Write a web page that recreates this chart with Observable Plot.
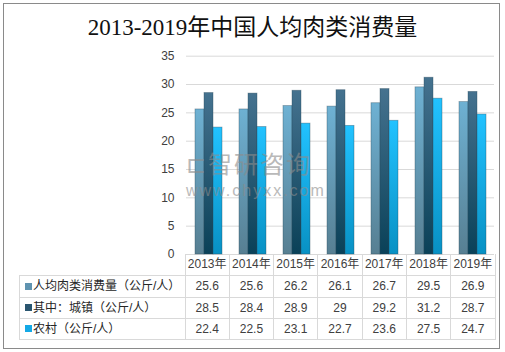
<!DOCTYPE html>
<html>
<head>
<meta charset="utf-8">
<script src="https://cdn.jsdelivr.net/npm/d3@7"></script>
<script src="https://cdn.jsdelivr.net/npm/@observablehq/plot@0.6"></script>
<style>
  html, body { margin: 0; padding: 0; background: #fff; }
  #wrap { position: relative; width: 505px; height: 352px; overflow: hidden; background: #fff; }
  #wrap svg { position: absolute; left: 0; top: 0; }
  .abs { position: absolute; white-space: nowrap; }
  #frame { position: absolute; left: 3px; top: 3px; width: 497px; height: 346px; box-sizing: border-box; border: 1px solid #8a8a8a; }
  #title { left: 0; width: 505px; top: 15px; text-align: center; font-family: "Liberation Serif", "Noto Sans CJK SC", serif; font-size: 23px; line-height: 26px; color: #111; }
  .cell { font-family: "Liberation Sans", "Noto Sans CJK SC", sans-serif; font-size: 12px; color: #404040; line-height: 14px; }
  .hl { position: absolute; height: 1px; background: #d9d9d9; }
  .vl { position: absolute; width: 1px; background: #d9d9d9; }
  .wm { font-family: "Noto Sans CJK SC", sans-serif; color: #8c8c8c; opacity: 0.6; }
</style>
</head>
<body>
<div id="wrap"></div>
<script>
// ---- data ----
const years = ["2013年", "2014年", "2015年", "2016年", "2017年", "2018年", "2019年"];
const seriesNames = ["人均肉类消费量（公斤/人）", "其中：城镇（公斤/人）", "农村（公斤/人）"];
const perCapita = [25.6, 25.6, 26.2, 26.1, 26.7, 29.5, 26.9];
const urban = [28.5, 28.4, 28.9, 29, 29.2, 31.2, 28.7];
const rural = [22.4, 22.5, 23.1, 22.7, 23.6, 27.5, 24.7];
const yTicks = [0, 5, 10, 15, 20, 25, 30, 35];
const title = "2013-2019年中国人均肉类消费量";

const seriesValues = [perCapita, urban, rural];
const keys = ["s0", "s1", "s2"];
const gradients = [
  ["#6eb1d3", "#577f92"],
  ["#45728f", "#0a4158"],
  ["#22c2ff", "#0891c4"]
];
const keyColors = ["#5f93b0", "#2a5670", "#14a9e6"];

const rows = [];
years.forEach((y, i) => keys.forEach((k, j) => rows.push({year: y, key: k, value: seriesValues[j][i]})));

const W = 505, H = 352;
const mL = 185, mR = 10, plotTop = 55.7, plotBottom = 254;

const chart = Plot.plot({
  width: W,
  height: H,
  marginLeft: mL,
  marginRight: mR,
  marginTop: plotTop,
  marginBottom: H - plotBottom,
  style: {background: "transparent", fontFamily: "Liberation Sans, Noto Sans CJK SC, sans-serif"},
  fx: {domain: years, padding: 0, axis: null},
  x: {domain: keys, paddingInner: 0, paddingOuter: 0.715, axis: null},
  y: {domain: [0, 35], ticks: yTicks, axis: null},
  marks: [
    Plot.gridY(yTicks, {stroke: "#d9d9d9", strokeOpacity: 1}),
    ...keys.map((k, j) => Plot.barY(rows.filter(d => d.key === k), {
      fx: "year", x: "key", y: "value",
      fill: `url(#grad${j})`, stroke: "#2b4a5c", strokeOpacity: 0.45, strokeWidth: 0.8
    })),
    Plot.axisY({ticks: yTicks, tickSize: 0, tickPadding: 12, fontSize: 12, color: "#404040", label: null, facetAnchor: "left"})
  ]
});

// gradients
const svgNS = "http://www.w3.org/2000/svg";
const defs = document.createElementNS(svgNS, "defs");
gradients.forEach((g, j) => {
  const lg = document.createElementNS(svgNS, "linearGradient");
  lg.setAttribute("id", "grad" + j);
  lg.setAttribute("x1", "0"); lg.setAttribute("y1", "0");
  lg.setAttribute("x2", "0"); lg.setAttribute("y2", "1");
  [[0, g[0]], [1, g[1]]].forEach(([o, c]) => {
    const s = document.createElementNS(svgNS, "stop");
    s.setAttribute("offset", o); s.setAttribute("stop-color", c);
    lg.appendChild(s);
  });
  defs.appendChild(lg);
});
chart.insertBefore(defs, chart.firstChild);

const wrap = document.getElementById("wrap");
wrap.appendChild(chart);

function add(cls, style, text) {
  const d = document.createElement("div");
  d.className = cls;
  Object.assign(d.style, style);
  if (text != null) d.textContent = text;
  wrap.appendChild(d);
  return d;
}

// watermark
add("abs wm", {left: "186px", top: "150px", fontSize: "24px", lineHeight: "26px", letterSpacing: "2px"}, "⊏智研咨询");
add("abs wm", {left: "186px", top: "183px", fontSize: "16px", lineHeight: "16px", letterSpacing: "2px", fontFamily: "Liberation Sans, sans-serif"}, "www.chyxx.com");

// table
const colW = (W - mL - mR) / years.length;
const tLeft = 19, tRight = W - mR;
const rowTops = [254, 275, 297, 318, 339];
for (let i = 0; i <= years.length; i++) {
  add("vl", {left: (mL + i * colW - 0.5) + "px", top: "254px", height: "85px"});
}
add("vl", {left: tLeft + "px", top: "275px", height: "64px"});
for (let r = 1; r < rowTops.length; r++) {
  add("hl", {left: tLeft + "px", top: rowTops[r] + "px", width: (tRight - tLeft + 1) + "px"});
}
years.forEach((y, i) => {
  add("abs cell", {left: (mL + i * colW) + "px", width: colW + "px", textAlign: "center", top: "257px"}, y);
});
seriesNames.forEach((name, j) => {
  const top = rowTops[j + 1];
  const h = rowTops[j + 2] - top;
  add("abs", {left: "25px", top: (top + h / 2 - 3.5) + "px", width: "7px", height: "7px", background: keyColors[j]});
  add("abs cell", {left: "33px", top: (top + h / 2 - 7) + "px", color: "#262626"}, name);
  seriesValues[j].forEach((v, i) => {
    add("abs cell", {left: (mL + i * colW) + "px", width: colW + "px", textAlign: "center", top: (top + h / 2 - 7) + "px"}, String(v));
  });
});

add("abs", {}, title).id = "title";
add("", {}).id = "frame";
</script>
</body>
</html>
